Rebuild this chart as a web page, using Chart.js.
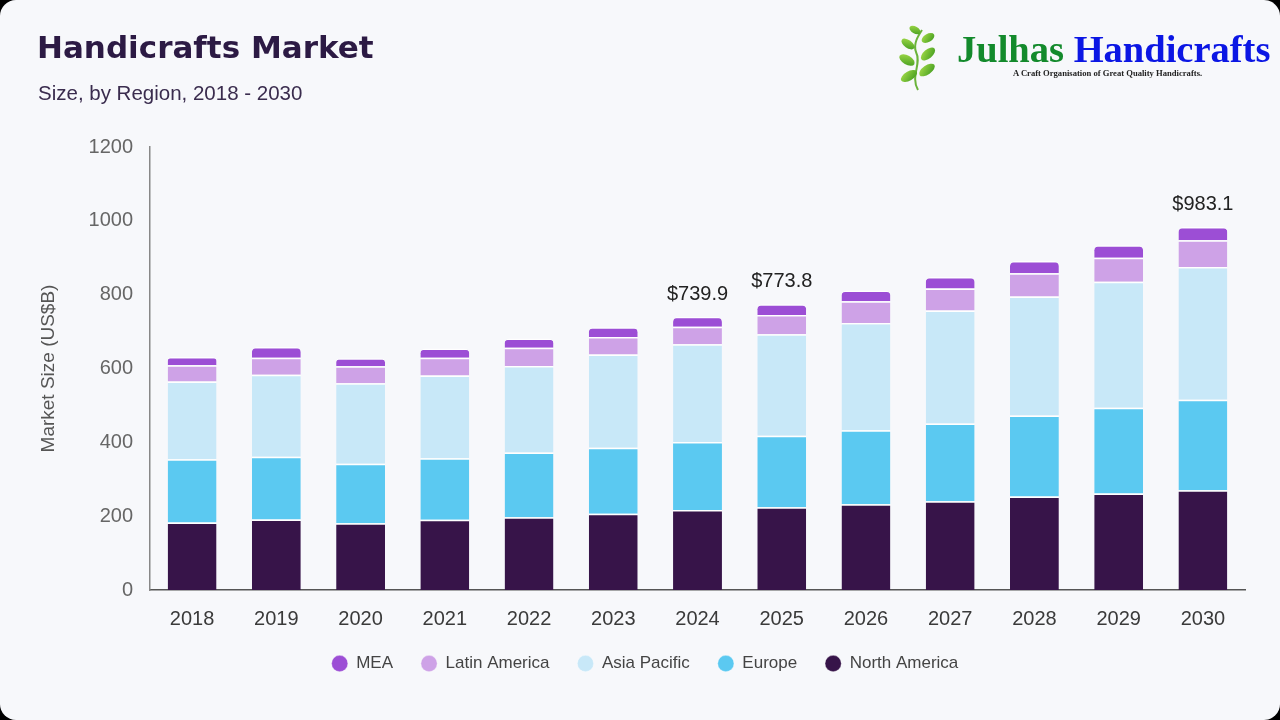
<!DOCTYPE html>
<html>
<head>
<meta charset="utf-8">
<script src="https://cdn.jsdelivr.net/npm/chart.js@4"></script>
<style>
    html, body { margin: 0; padding: 0; background: #000; }
    #card {
        position: relative;
        width: 1280px;
        height: 720px;
        background: #f7f8fb;
        border-radius: 16px;
        overflow: hidden;
    }
    #title {
        position: absolute; left: 37px; top: 32px;
        font: bold 31px/31px "DejaVu Sans", sans-serif;
        color: #2c1a44; white-space: nowrap;
    }
    #subtitle {
        position: absolute; left: 38px; top: 83px;
        font: 20.5px/20px "Liberation Sans", Arial, sans-serif;
        color: #3a2c4e; white-space: nowrap;
    }
    #logo-text {
        position: absolute; left: 957px; top: 30px;
        font: bold 38.5px/38px "Liberation Serif", "Times New Roman", serif;
        white-space: nowrap;
    }
    #logo-text .g { color: #138a2c; }
    #logo-text .b { color: #0b16e4; }
    #tagline {
        position: absolute; left: 1013px; top: 69px;
        font: bold 8.6px/9px "Liberation Serif", serif;
        color: #222; white-space: nowrap;
    }
    #leaf { position: absolute; left: 896px; top: 24px; }
    #chartBox { position: absolute; left: 0; top: 0; width: 1280px; height: 720px; }
</style>
</head>
<body>
<div id="card">
    <div id="chartBox"><canvas id="marketChart"></canvas></div>
    <div id="title">Handicrafts Market</div>
    <div id="subtitle">Size, by Region, 2018 - 2030</div>
    <svg id="leaf" width="46" height="68" viewBox="0 0 46 68">
        <defs>
            <linearGradient id="lg" x1="0" y1="0" x2="1" y2="1">
                <stop offset="0" stop-color="#a6dd4a"/>
                <stop offset="1" stop-color="#3f9a1e"/>
            </linearGradient>
        </defs>
        <path d="M22 66 C14 52 26 40 20 28 C17 20 22 12 26 6" stroke="#6ab33a" stroke-width="2" fill="none"/>
        <ellipse cx="13" cy="52" rx="9" ry="4.5" fill="url(#lg)" transform="rotate(-30 13 52)"/>
        <ellipse cx="31" cy="46" rx="9" ry="4.5" fill="url(#lg)" transform="rotate(-35 31 46)"/>
        <ellipse cx="11" cy="36" rx="8.5" ry="4.5" fill="url(#lg)" transform="rotate(30 11 36)"/>
        <ellipse cx="32" cy="30" rx="8.5" ry="4.5" fill="url(#lg)" transform="rotate(-40 32 30)"/>
        <ellipse cx="12" cy="20" rx="7.5" ry="4" fill="url(#lg)" transform="rotate(35 12 20)"/>
        <ellipse cx="32" cy="14" rx="7" ry="4" fill="url(#lg)" transform="rotate(-30 32 14)"/>
        <ellipse cx="19" cy="6" rx="6" ry="3.5" fill="url(#lg)" transform="rotate(30 19 6)"/>
    </svg>
    <div id="logo-text"><span class="g">Julhas</span> <span class="b">Handicrafts</span></div>
    <div id="tagline">A Craft Organisation of Great Quality Handicrafts.</div>
</div>

<script>
// values (US$B)
const years = ['2018', '2019', '2020', '2021', '2022', '2023', '2024', '2025', '2026', '2027', '2028', '2029', '2030'];
const northAmerica = [183, 191, 181, 190, 197, 206.5, 217, 224, 232.5, 240.6, 253, 261.5, 270.5];
const europe = [171.5, 170, 161, 167, 175.6, 178.5, 184, 194, 200.5, 210.4, 220, 232.5, 245];
const asiaPacific = [210.5, 222, 218, 224, 234, 253, 265, 275, 290, 306, 322, 341, 359.6];
const latinAmerica = [44, 46, 46, 48, 49.5, 47, 47, 52, 59, 60, 63, 65, 72];
const mea = [22, 29, 22, 25, 25, 27, 26.9, 28.8, 29, 31, 33, 33.6, 36];
const labelledYears = ['2024', '2025', '2030'];
const yTicks = [0, 200, 400, 600, 800, 1000, 1200];

const colors = {
    northAmerica: '#371449',
    europe: '#5bc9f1',
    asiaPacific: '#c8e8f8',
    latinAmerica: '#cea2e7',
    mea: '#9c4ed5'
};

function segment(label, data, color, top) {
    return {
        label: label,
        data: data,
        backgroundColor: color,
        borderColor: 'rgba(255, 255, 255, 0.9)',
        borderWidth: { top: 1.5, bottom: 0, left: 0, right: 0 },
        borderSkipped: 'bottom',
        borderRadius: top ? { topLeft: 5, topRight: 5 } : 0,
        barPercentage: 0.58,
        categoryPercentage: 1
    };
}

// total labels above selected bars
const totalLabels = {
    id: 'totalLabels',
    afterDatasetsDraw(chart) {
        const ctx = chart.ctx;
        const yScale = chart.scales.y;
        const xScale = chart.scales.x;
        ctx.save();
        ctx.font = '20px "Liberation Sans", Arial, sans-serif';
        ctx.fillStyle = '#222';
        ctx.textAlign = 'center';
        ctx.textBaseline = 'alphabetic';
        years.forEach((year, i) => {
            if (!labelledYears.includes(year)) return;
            const total = chart.data.datasets.reduce((sum, ds) => sum + ds.data[i], 0);
            const x = xScale.getPixelForValue(i);
            const y = yScale.getPixelForValue(total);
            ctx.fillText(`$${total.toFixed(1)}`, x, y - 17);
        });
        ctx.restore();
    }
};

document.addEventListener('DOMContentLoaded', () => {
    const ctx = document.getElementById('marketChart').getContext('2d');
    const fontFamily = '"Liberation Sans", Arial, sans-serif';

    new Chart(ctx, {
        type: 'bar',
        data: {
            labels: years,
            datasets: [
                segment('North America', northAmerica, colors.northAmerica, false),
                segment('Europe', europe, colors.europe, false),
                segment('Asia Pacific', asiaPacific, colors.asiaPacific, false),
                segment('Latin America', latinAmerica, colors.latinAmerica, false),
                segment('MEA', mea, colors.mea, true)
            ]
        },
        options: {
            responsive: true,
            maintainAspectRatio: false,
            animation: false,
            layout: {
                padding: { left: 45, right: 35, top: 147, bottom: 38 }
            },
            scales: {
                x: {
                    stacked: true,
                    grid: { display: false, drawTicks: false },
                    border: { display: true, color: '#555', width: 1.5 },
                    ticks: {
                        color: '#3a3a3a',
                        padding: 17,
                        font: { family: fontFamily, size: 20 }
                    },
                    afterFit: (scale) => { scale.height = 37; }
                },
                y: {
                    stacked: true,
                    min: 0,
                    max: 1200,
                    grid: { display: false, drawTicks: false },
                    border: { display: true, color: '#888', width: 1.5 },
                    afterBuildTicks: (scale) => {
                        scale.ticks = yTicks.map(v => ({ value: v }));
                    },
                    ticks: {
                        color: '#666',
                        padding: 17,
                        font: { family: fontFamily, size: 20 },
                        callback: (value) => String(value)
                    },
                    title: {
                        display: true,
                        text: 'Market Size (US$B)',
                        color: '#555',
                        padding: { top: -8, bottom: 0 },
                        font: { family: fontFamily, size: 19 }
                    },
                    afterFit: (scale) => { scale.width = 105; }
                }
            },
            plugins: {
                legend: {
                    position: 'bottom',
                    reverse: true,
                    labels: {
                        usePointStyle: true,
                        pointStyle: 'circle',
                        boxWidth: 16,
                        boxHeight: 11.5,
                        padding: 28,
                        color: '#444',
                        font: { family: fontFamily, size: 17 }
                    }
                },
                tooltip: { enabled: false }
            }
        },
        plugins: [totalLabels]
    });
});
</script>
</body>
</html>
